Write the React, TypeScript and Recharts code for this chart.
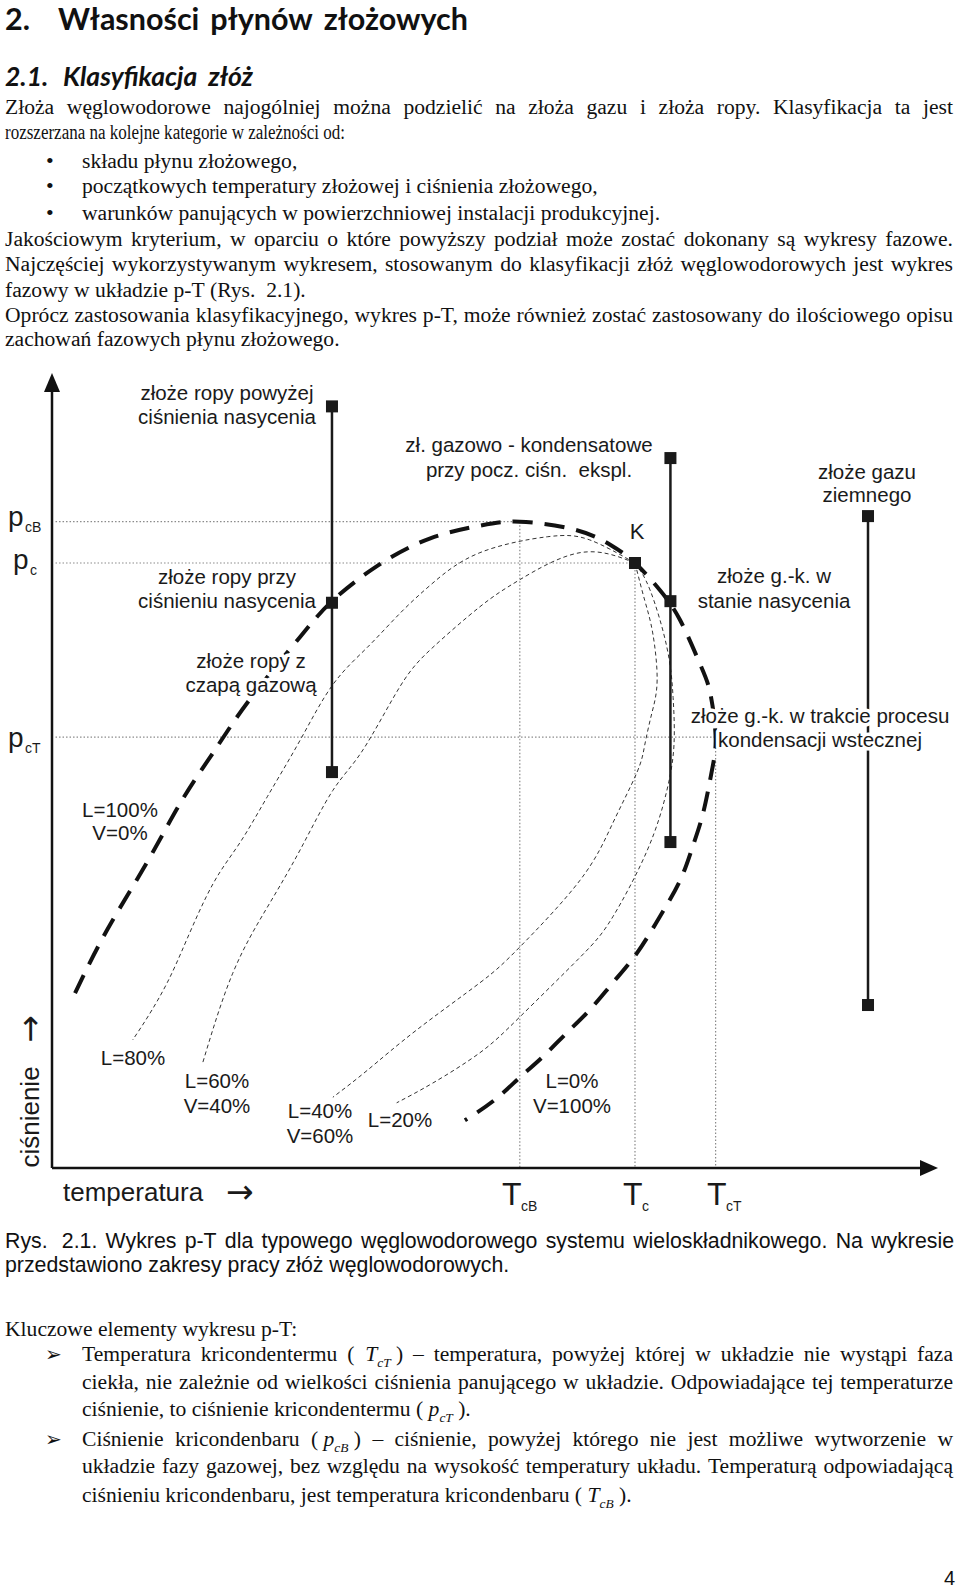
import React from 'react';
import { ComposedChart, Line, Scatter, XAxis, YAxis, ReferenceLine } from 'recharts';

// ---------- chart values (T: % of temperature axis, p: % of pressure axis) ----------
const TcB = 52.8;
const Tc = 65.8;
const TcT = 74.9;
const pcB = 81.3;
const pc = 76.1;
const pcT = 54.2;

// phase envelope: bubble-point curve -> K -> dew-point curve
const envelope = [
  { T: 2.6, p: 22.0 }, { T: 6.2, p: 29.9 }, { T: 10.7, p: 38.4 }, { T: 14.7, p: 46.3 },
  { T: 18.4, p: 52.6 }, { T: 22.3, p: 58.9 }, { T: 28.0, p: 66.8 }, { T: 31.7, p: 71.4 },
  { T: 36.8, p: 75.8 }, { T: 42.7, p: 79.2 }, { T: 48.3, p: 80.8 }, { T: TcB, p: pcB },
  { T: 59.0, p: 80.3 }, { T: 63.0, p: 78.4 }, { T: Tc, p: pc }, { T: 68.6, p: 72.7 },
  { T: 70.9, p: 68.9 }, { T: 73.1, p: 63.5 }, { T: 74.3, p: 59.7 }, { T: TcT, p: pcT },
  { T: 74.5, p: 50.1 }, { T: 73.5, p: 44.7 }, { T: 72.3, p: 40.4 }, { T: 70.9, p: 36.2 },
  { T: 68.6, p: 31.6 }, { T: 66.0, p: 27.0 }, { T: 63.3, p: 23.3 }, { T: 60.7, p: 19.9 },
  { T: 58.1, p: 17.0 }, { T: 55.4, p: 14.0 }, { T: 52.8, p: 11.4 }, { T: 50.0, p: 8.6 },
  { T: 46.6, p: 6.0 },
];

const qualityL80 = [
  { T: Tc, p: pc }, { T: 60.7, p: 79.0 }, { T: 55.9, p: 79.4 }, { T: 48.3, p: 77.4 },
  { T: 43.0, p: 73.6 }, { T: 39.3, p: 69.8 }, { T: 35.6, p: 65.5 }, { T: 31.7, p: 60.8 },
  { T: 28.0, p: 53.8 }, { T: 24.3, p: 46.7 }, { T: 21.2, p: 40.9 }, { T: 18.2, p: 35.8 },
  { T: 15.2, p: 28.7 }, { T: 13.0, p: 23.3 }, { T: 10.8, p: 19.0 }, { T: 9.1, p: 16.1 },
];
const qualityL60 = [
  { T: Tc, p: pc }, { T: 59.6, p: 77.4 }, { T: 52.8, p: 74.0 }, { T: 48.3, p: 70.6 },
  { T: 43.0, p: 65.5 }, { T: 39.3, p: 60.6 }, { T: 35.1, p: 52.6 }, { T: 31.7, p: 47.5 },
  { T: 28.0, p: 40.0 }, { T: 24.3, p: 32.8 }, { T: 20.4, p: 24.5 }, { T: 17.0, p: 13.2 },
];
const qualityL40 = [
  { T: Tc, p: pc }, { T: 66.9, p: 71.4 }, { T: 67.8, p: 67.3 }, { T: 68.3, p: 61.4 },
  { T: 67.7, p: 57.2 }, { T: 66.9, p: 53.2 }, { T: 66.0, p: 49.7 }, { T: 63.3, p: 43.4 },
  { T: 59.6, p: 36.2 }, { T: 52.8, p: 27.8 }, { T: 48.3, p: 23.3 }, { T: 41.2, p: 17.4 },
  { T: 35.6, p: 12.3 }, { T: 31.7, p: 8.9 },
];
const qualityL20 = [
  { T: Tc, p: pc }, { T: 67.5, p: 72.7 }, { T: 69.4, p: 65.5 }, { T: 70.1, p: 59.2 },
  { T: 70.2, p: 53.2 }, { T: 69.4, p: 47.5 }, { T: 67.2, p: 40.0 }, { T: 63.3, p: 31.6 },
  { T: 59.6, p: 26.5 }, { T: 52.8, p: 19.0 }, { T: 48.3, p: 14.5 }, { T: 43.0, p: 10.7 },
  { T: 38.9, p: 8.2 },
];

// reservoir depletion paths (isothermal)
const pathOil = [{ T: 31.6, p: 95.8 }, { T: 31.6, p: 71.1 }, { T: 31.6, p: 49.8 }];
const pathCondensate = [{ T: 69.8, p: 89.3 }, { T: 69.8, p: 71.3 }, { T: 69.8, p: 41.0 }];
const pathGas = [{ T: 92.1, p: 82.0 }, { T: 92.1, p: 20.5 }];
const criticalPoint = [{ T: Tc, p: pc }];
const axisTips = [{ T: 100, p: 0, dir: 'x' }, { T: 0, p: 100, dir: 'y' }];

// ---------- text ----------
const SERIF = '"Liberation Serif", "Times New Roman", serif';
const SANS = '"Liberation Sans", Arial, sans-serif';
const HEAD = 'Lato, "Open Sans", sans-serif';
const BODY_SIZE = 21.6;

const bodyLines = [
  { x: 5, y: 114, w: 948, sq: 0, t: 'Złoża węglowodorowe najogólniej można podzielić na złoża gazu i złoża ropy. Klasyfikacja ta jest' },
  { x: 5, y: 139, w: 0, sq: 340, t: 'rozszerzana na kolejne kategorie w zależności od:' },
  { x: 82, y: 168, w: 0, sq: 0, t: 'składu płynu złożowego,' },
  { x: 82, y: 193, w: 0, sq: 0, t: 'początkowych temperatury złożowej i ciśnienia złożowego,' },
  { x: 82, y: 220, w: 0, sq: 0, t: 'warunków panujących w powierzchniowej instalacji produkcyjnej.' },
  { x: 5, y: 246, w: 948, sq: 0, t: 'Jakościowym kryterium, w oparciu o które powyższy podział może zostać dokonany są wykresy fazowe.' },
  { x: 5, y: 271, w: 948, sq: 0, t: 'Najczęściej wykorzystywanym wykresem, stosowanym do klasyfikacji złóż węglowodorowych jest wykres' },
  { x: 5, y: 297, w: 0, sq: 0, t: 'fazowy w układzie p-T (Rys.\u00a0 2.1).' },
  { x: 5, y: 322, w: 948, sq: 0, t: 'Oprócz zastosowania klasyfikacyjnego, wykres p-T, może również zostać zastosowany do ilościowego opisu' },
  { x: 5, y: 346, w: 0, sq: 0, t: 'zachowań fazowych płynu złożowego.' },
  { x: 5, y: 1336, w: 0, sq: 0, t: 'Kluczowe elementy wykresu p-T:' },
  { x: 82, y: 1361, w: 871, sq: 0, t: 'Temperatura kricondentermu (\u00a0\u00a0{T|cT}\u00a0) – temperatura, powyżej której w układzie nie wystąpi faza' },
  { x: 82, y: 1389, w: 871, sq: 0, t: 'ciekła, nie zależnie od wielkości ciśnienia panującego w układzie. Odpowiadające tej temperaturze' },
  { x: 82, y: 1416, w: 0, sq: 0, t: 'ciśnienie, to ciśnienie kricondentermu (\u00a0{p|cT}\u00a0).' },
  { x: 82, y: 1446, w: 871, sq: 0, t: 'Ciśnienie kricondenbaru (\u00a0{p|cB}\u00a0) – ciśnienie, powyżej którego nie jest możliwe wytworzenie w' },
  { x: 82, y: 1473, w: 871, sq: 0, t: 'układzie fazy gazowej, bez względu na wysokość temperatury układu. Temperaturą odpowiadającą' },
  { x: 82, y: 1502, w: 0, sq: 0, t: 'ciśnieniu kricondenbaru, jest temperatura kricondenbaru (\u00a0{T|cB}\u00a0).' },
];
const bulletDots = [168, 193, 220];
const arrowBullets = [1361, 1446];
const captionLines = [
  { x: 5, y: 1248, w: 949, t: 'Rys.\u00a0 2.1. Wykres p-T dla typowego węglowodorowego systemu wieloskładnikowego. Na wykresie' },
  { x: 5, y: 1272, w: 0, t: 'przedstawiono zakresy pracy złóż węglowodorowych.' },
];

const annotations = [
  { x: 227, y: 400, t: 'złoże ropy powyżej' }, { x: 227, y: 424, t: 'ciśnienia nasycenia' },
  { x: 227, y: 584, t: 'złoże ropy przy' }, { x: 227, y: 608, t: 'ciśnieniu nasycenia' },
  { x: 251, y: 668, t: 'złoże ropy z' }, { x: 251, y: 692, t: 'czapą gazową' },
  { x: 529, y: 452, t: 'zł. gazowo - kondensatowe' }, { x: 529, y: 477, t: 'przy pocz. ciśn.\u00a0 ekspl.' },
  { x: 867, y: 479, t: 'złoże gazu' }, { x: 867, y: 502, t: 'ziemnego' },
  { x: 774, y: 583, t: 'złoże g.-k. w' }, { x: 774, y: 608, t: 'stanie nasycenia' },
  { x: 820, y: 723, t: 'złoże g.-k. w trakcie procesu' }, { x: 820, y: 747, t: 'kondensacji wstecznej' },
  { x: 120, y: 817, t: 'L=100%' }, { x: 120, y: 840, t: 'V=0%' },
  { x: 133, y: 1065, t: 'L=80%' },
  { x: 217, y: 1088, t: 'L=60%' }, { x: 217, y: 1113, t: 'V=40%' },
  { x: 320, y: 1118, t: 'L=40%' }, { x: 320, y: 1143, t: 'V=60%' },
  { x: 400, y: 1127, t: 'L=20%' },
  { x: 572, y: 1088, t: 'L=0%' }, { x: 572, y: 1113, t: 'V=100%' },
];
const pressureLabels = [
  { x: 8, y: 526, sub: 'cB' },
  { x: 13, y: 569, sub: 'c' },
  { x: 8, y: 747, sub: 'cT' },
];
const temperatureLabels = [
  { x: 502, sub: 'cB' },
  { x: 623, sub: 'c' },
  { x: 707, sub: 'cT' },
];

// ---------- text helpers ----------
let measureCtx: CanvasRenderingContext2D | null = null;
function measure(text: string, font: string): number {
  if (!measureCtx) measureCtx = document.createElement('canvas').getContext('2d');
  if (!measureCtx) return text.length * 9;
  measureCtx.font = font;
  return measureCtx.measureText(text).width;
}

type Seg = { t: string; i?: boolean; sub?: boolean };
function parseWord(w: string): Seg[] {
  const segs: Seg[] = [];
  const re = /\{([^|}]+)\|([^}]+)\}/g;
  let last = 0;
  let m: RegExpExecArray | null;
  while ((m = re.exec(w))) {
    if (m.index > last) segs.push({ t: w.slice(last, m.index) });
    segs.push({ t: m[1], i: true });
    segs.push({ t: m[2], i: true, sub: true });
    last = m.index + m[0].length;
  }
  if (last < w.length) segs.push({ t: w.slice(last) });
  return segs;
}

function Words(props: {
  x: number; y: number; w: number; t: string; family: string; size: number;
  weight?: string; italic?: boolean; fill?: string; sq?: number;
}) {
  const { x, y, w, t, family, size, weight = 'normal', italic = false, fill = '#111', sq = 0 } = props;
  if (sq) {
    return (
      <text x={x} y={y} fontFamily={family} fontSize={size} fontWeight={weight}
        fontStyle={italic ? 'italic' : 'normal'} fill={fill} textLength={sq} lengthAdjust="spacingAndGlyphs">{t}</text>
    );
  }
  const words = t.split(' ').filter(Boolean).map(parseWord);
  const subSize = size * 0.62;
  const fontOf = (s: Seg) =>
    `${s.i || italic ? 'italic ' : ''}${weight} ${s.sub ? subSize : size}px ${family}`;
  const widths = words.map((segs) => segs.reduce((a, s) => a + measure(s.t, fontOf(s)), 0));
  const space = measure(' ', fontOf({ t: ' ' }));
  const total = widths.reduce((a, b) => a + b, 0);
  const gap = w && words.length > 1 ? (w - total) / (words.length - 1) : space;
  let cur = x;
  return (
    <g>
      {words.map((segs, k) => {
        const px = cur;
        cur += widths[k] + gap;
        let off = 0;
        return (
          <text key={k} x={px} y={y} fontFamily={family} fontSize={size} fontWeight={weight}
            fontStyle={italic ? 'italic' : 'normal'} fill={fill}>
            {segs.map((s, j) => {
              const target = s.sub ? size * 0.28 : 0;
              const dy = target - off;
              off = target;
              return (
                <tspan key={j} dy={dy || undefined} fontSize={s.sub ? subSize : undefined}
                  fontStyle={s.i ? 'italic' : undefined}>{s.t}</tspan>
              );
            })}
          </text>
        );
      })}
    </g>
  );
}

// ---------- marker shapes ----------
const SquareMark = (props: any) => {
  const { cx, cy } = props;
  if (cx == null || cy == null) return <g />;
  return <rect x={cx - 6} y={cy - 6} width={12} height={12} fill="#1a1a1a" />;
};
const ArrowHead = (props: any) => {
  const { cx, cy, payload } = props;
  if (cx == null || cy == null) return <g />;
  if (payload && payload.dir === 'x') {
    return <polygon points={`${cx},${cy} ${cx - 18},${cy - 8} ${cx - 18},${cy + 8}`} fill="#111" />;
  }
  return <polygon points={`${cx},${cy} ${cx - 8},${cy + 19} ${cx + 8},${cy + 19}`} fill="#111" />;
};

const DOT_GREY = '#8a8a8a';
const THIN = '#333';
const ARROW_FONT = '"DejaVu Sans", sans-serif';

export default function App() {
  return (
    <div style={{ position: 'relative', width: 960, height: 1588, background: '#fff', overflow: 'hidden' }}>
      <style>{'html,body{margin:0;padding:0;background:#fff}'}</style>
      <div style={{ position: 'absolute', left: 0, top: 0 }}>
        <ComposedChart width={960} height={1588} margin={{ top: 373, right: 22, bottom: 420, left: 52 }}>
          <XAxis type="number" dataKey="T" domain={[0, 100]} hide />
          <YAxis type="number" dataKey="p" domain={[0, 100]} hide />

          <ReferenceLine segment={[{ x: 0.4, y: pcB }, { x: TcB, y: pcB }]} stroke={DOT_GREY} strokeWidth={1.2} strokeDasharray="1.5 2" />
          <ReferenceLine segment={[{ x: 0.4, y: pc }, { x: Tc, y: pc }]} stroke={DOT_GREY} strokeWidth={1.2} strokeDasharray="1.5 2" />
          <ReferenceLine segment={[{ x: 0.4, y: pcT }, { x: TcT, y: pcT }]} stroke={DOT_GREY} strokeWidth={1.2} strokeDasharray="1.5 2" />
          <ReferenceLine segment={[{ x: TcB, y: pcB }, { x: TcB, y: 0 }]} stroke={DOT_GREY} strokeWidth={1.2} strokeDasharray="1.5 2" />
          <ReferenceLine segment={[{ x: Tc, y: pc }, { x: Tc, y: 0 }]} stroke={DOT_GREY} strokeWidth={1.2} strokeDasharray="1.5 2" />
          <ReferenceLine segment={[{ x: TcT, y: pcT }, { x: TcT, y: 0 }]} stroke={DOT_GREY} strokeWidth={1.2} strokeDasharray="1.5 2" />

          <ReferenceLine segment={[{ x: 0, y: 0 }, { x: 98, y: 0 }]} stroke="#111" strokeWidth={2.5} />
          <ReferenceLine segment={[{ x: 0, y: 0 }, { x: 0, y: 98 }]} stroke="#111" strokeWidth={2.5} />

          <Line data={qualityL80} dataKey="p" type="natural" stroke={THIN} strokeWidth={1} strokeDasharray="4 3" dot={false} activeDot={false} isAnimationActive={false} />
          <Line data={qualityL60} dataKey="p" type="natural" stroke={THIN} strokeWidth={1} strokeDasharray="4 3" dot={false} activeDot={false} isAnimationActive={false} />
          <Line data={qualityL40} dataKey="p" type="natural" stroke={THIN} strokeWidth={1} strokeDasharray="4 3" dot={false} activeDot={false} isAnimationActive={false} />
          <Line data={qualityL20} dataKey="p" type="natural" stroke={THIN} strokeWidth={1} strokeDasharray="4 3" dot={false} activeDot={false} isAnimationActive={false} />

          <Line data={envelope} dataKey="p" type="natural" stroke="#111" strokeWidth={4} strokeDasharray="20 12" dot={false} activeDot={false} isAnimationActive={false} />

          <Line data={pathOil} dataKey="p" type="linear" stroke="#1a1a1a" strokeWidth={2.5} dot={false} activeDot={false} isAnimationActive={false} />
          <Line data={pathCondensate} dataKey="p" type="linear" stroke="#1a1a1a" strokeWidth={2.5} dot={false} activeDot={false} isAnimationActive={false} />
          <Line data={pathGas} dataKey="p" type="linear" stroke="#1a1a1a" strokeWidth={2.5} dot={false} activeDot={false} isAnimationActive={false} />

          <Scatter data={[...pathOil, ...pathCondensate, ...pathGas, ...criticalPoint]} shape={SquareMark} isAnimationActive={false} />
          <Scatter data={axisTips} shape={ArrowHead} isAnimationActive={false} />
        </ComposedChart>
      </div>

      <svg width={960} height={1588} style={{ position: 'absolute', left: 0, top: 0, pointerEvents: 'none' }}>
        {/* headings */}
        <Words x={5} y={30} w={0} t="2." family={HEAD} size={30.5} weight="bold" />
        <Words x={58} y={30} w={410} t="Własności płynów złożowych" family={HEAD} size={30.5} weight="bold" />
        <Words x={5} y={86} w={0} t="2.1." family={HEAD} size={26.5} weight="bold" italic />
        <Words x={63} y={86} w={190} t="Klasyfikacja złóż" family={HEAD} size={26.5} weight="bold" italic />

        {bodyLines.map((l, k) => (
          <Words key={'b' + k} x={l.x} y={l.y} w={l.w} sq={l.sq} t={l.t} family={SERIF} size={BODY_SIZE} />
        ))}
        {bulletDots.map((y, k) => (
          <text key={'d' + k} x={46} y={y} fontFamily={SERIF} fontSize={22} fill="#111">•</text>
        ))}
        {arrowBullets.map((y, k) => (
          <text key={'a' + k} x={45} y={y} fontFamily={ARROW_FONT} fontSize={20} fill="#111">➢</text>
        ))}
        {captionLines.map((l, k) => (
          <Words key={'c' + k} x={l.x} y={l.y} w={l.w} t={l.t} family={SANS} size={21.3} />
        ))}
        <text x={955} y={1585} textAnchor="end" fontFamily='"Liberation Sans Narrow", "Liberation Sans", sans-serif' fontSize={20} fill="#111">4</text>

        {/* chart annotations (white halo interrupts lines behind the text, as in the original) */}
        {annotations.map((a, k) => (
          <text key={'n' + k} x={a.x} y={a.y} textAnchor="middle" fontFamily={SANS} fontSize={20.5} fill="#1a1a1a"
            stroke="#fff" strokeWidth={7} strokeLinejoin="round" paintOrder="stroke">{a.t}</text>
        ))}
        <text x={637} y={539} textAnchor="middle" fontFamily={SANS} fontSize={22} fill="#1a1a1a">K</text>
        {pressureLabels.map((l, k) => (
          <g key={'p' + k}>
            <text x={l.x} y={l.y} fontFamily={SANS} fontSize={28} fill="#1a1a1a">p</text>
            <text x={l.x + 17} y={l.y + 6} fontFamily={SANS} fontSize={14} fill="#1a1a1a">{l.sub}</text>
          </g>
        ))}
        {temperatureLabels.map((l, k) => (
          <g key={'t' + k}>
            <text x={l.x} y={1205} fontFamily={SANS} fontSize={32} fill="#1a1a1a">T</text>
            <text x={l.x + 19} y={1211} fontFamily={SANS} fontSize={14} fill="#1a1a1a">{l.sub}</text>
          </g>
        ))}
        <text x={63} y={1201} fontFamily={SANS} fontSize={26} fill="#1a1a1a">temperatura</text>
        <text x={226} y={1203} fontFamily={ARROW_FONT} fontSize={33} fill="#1a1a1a">→</text>
        <text transform="translate(39,1117) rotate(-90)" textAnchor="middle" fontFamily={SANS} fontSize={26} fill="#1a1a1a">ciśnienie</text>
        <text transform="translate(41,1029) rotate(-90)" textAnchor="middle" fontFamily={ARROW_FONT} fontSize={33} fill="#1a1a1a">→</text>
      </svg>
    </div>
  );
}
